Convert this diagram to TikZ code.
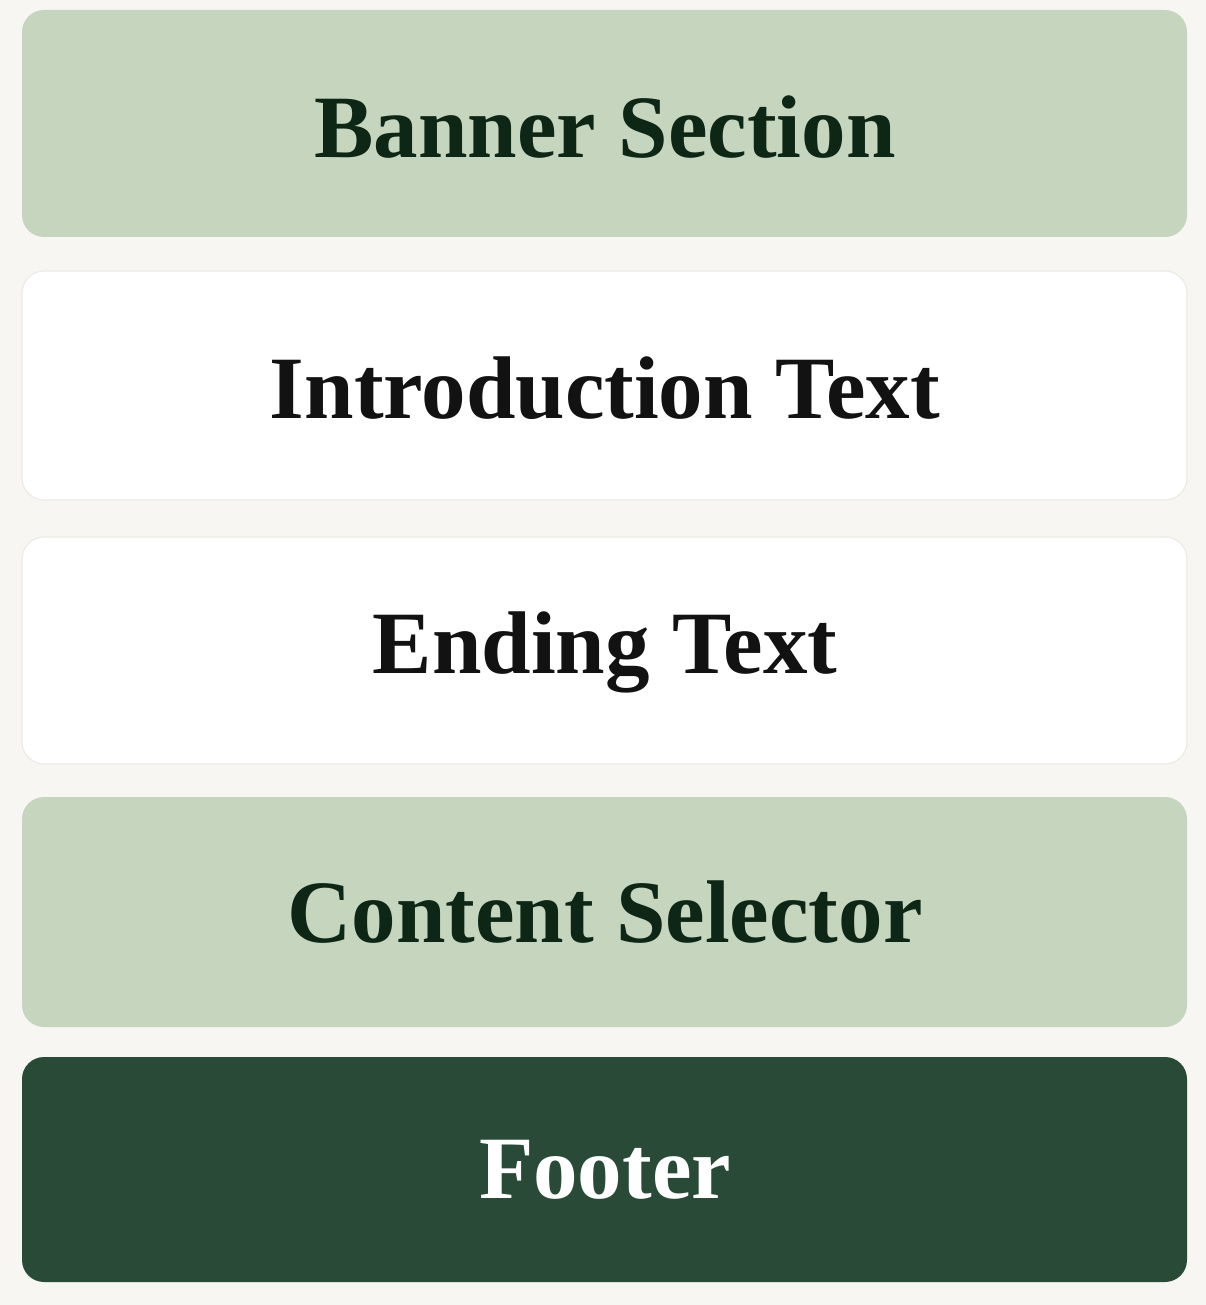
\documentclass[tikz,border=0pt]{standalone}
\usepackage{fontspec}
\setmainfont{Liberation Serif}
\definecolor{bgc}{HTML}{F7F6F2}
\definecolor{lightg}{HTML}{C5D5BE}
\definecolor{darkg}{HTML}{284A36}
\definecolor{gtext}{HTML}{0E2616}
\definecolor{btext}{HTML}{121212}
\definecolor{wborder}{HTML}{ECEAE4}
\tikzset{
  panel/.style={rounded corners=22pt, line width=1.2pt},
  lbl/.style={font=\fontsize{89}{93}\selectfont\bfseries, inner sep=0pt, anchor=center},
}
\begin{document}
\begin{tikzpicture}[x=1pt,y=-1pt]
\useasboundingbox (0,0) rectangle (1206,1305);
\fill[bgc] (0,0) rectangle (1206,1305);
% boxes
\path[panel, fill=lightg] (22,10) rectangle (1187,237);
\path[panel, fill=white, draw=wborder] (22,271) rectangle (1187,500);
\path[panel, fill=white, draw=wborder] (22,537) rectangle (1187,764);
\path[panel, fill=lightg] (22,797) rectangle (1187,1027);
\path[panel, fill=darkg] (22,1057) rectangle (1187,1282);
% labels
\node[lbl, text=gtext] (banner) at (605,127) {Banner Section};
\node[lbl, text=btext] (intro) at (605,388) {Introduction Text};
\node[lbl, text=btext] (ending) at (605,652) {Ending Text};
\node[lbl, text=gtext] (selector) at (605,912) {Content Selector};
\node[lbl, text=white] (footer) at (605,1170) {Footer};
\end{tikzpicture}
\end{document}
